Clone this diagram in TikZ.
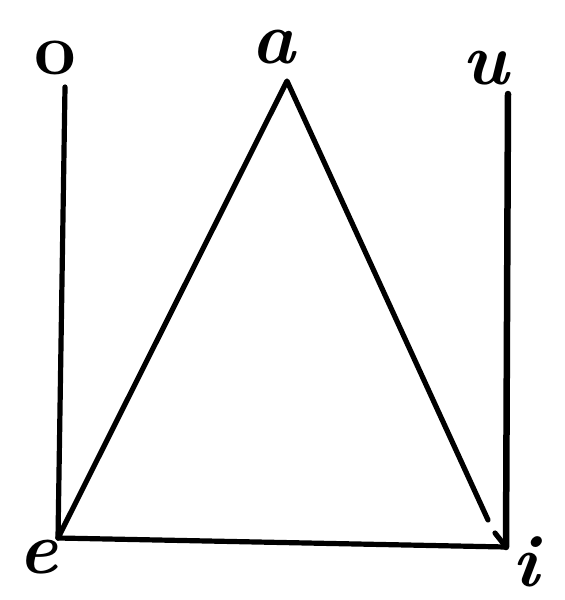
\documentclass[tikz,border=0pt]{standalone}
\begin{document}
\begin{tikzpicture}[x=1pt,y=-1pt,
  lbl/.style={inner sep=0pt,font=\fontsize{74}{80}\selectfont\bfseries},
  stroke/.style={line width=5.2pt,line cap=round,line join=round}]
\useasboundingbox[fill=white] (0,0) rectangle (565,600);
\coordinate (A) at (287,81);
\coordinate (E) at (58,538);
\coordinate (I) at (506,547);
\coordinate (Otop) at (65,87);
\coordinate (Utop) at (508,94);
\coordinate (Aend) at (488,520);
\coordinate (Gs) at (495,533);
\node[lbl] (o) at (55,58) {o};
\node[lbl] (a) at (273,47) {\itshape a};
\node[lbl] (u) at (485,68) {\itshape u};
\node[lbl] (e) at (38,557) {\itshape e};
\node[lbl] (i) at (526,562) {\itshape i};
\draw[stroke] (Otop) -- (E);
\draw[stroke,line width=6.5pt] (Utop) -- (I);
\draw[stroke] (E) -- (A) -- (Aend);
\draw[stroke] (Gs) -- (I);
\draw[stroke] (E) -- (I);
\end{tikzpicture}
\end{document}
